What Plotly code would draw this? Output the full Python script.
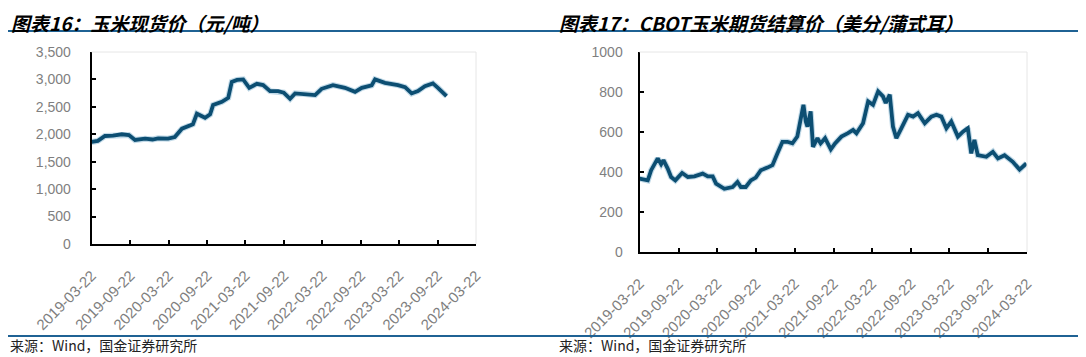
import plotly.graph_objects as go

# ---------------- data ----------------
tick_dates = ["2019-03-22", "2019-09-22", "2020-03-22", "2020-09-22", "2021-03-22",
              "2021-09-22", "2022-03-22", "2022-09-22", "2023-03-22", "2023-09-22", "2024-03-22"]

spot_dates = ["2019-03-22", "2019-04-20", "2019-05-24", "2019-07-01", "2019-08-12", "2019-09-15",
              "2019-10-14", "2019-12-01", "2020-01-05", "2020-02-01", "2020-03-19", "2020-04-20",
              "2020-05-24", "2020-06-23", "2020-07-15", "2020-08-03", "2020-09-11", "2020-10-05",
              "2020-10-19", "2020-11-30", "2020-12-30", "2021-01-16", "2021-02-10", "2021-03-11",
              "2021-04-09", "2021-05-15", "2021-06-14", "2021-07-17", "2021-08-24", "2021-09-20",
              "2021-10-20", "2021-11-13", "2021-12-20", "2022-02-16", "2022-03-19", "2022-05-12",
              "2022-07-08", "2022-08-25", "2022-09-26", "2022-11-12", "2022-11-28", "2023-01-14",
              "2023-03-17", "2023-04-20", "2023-05-21", "2023-06-20", "2023-07-23", "2023-08-30",
              "2023-09-23", "2023-10-15", "2023-11-03"]
spot_values = [1860, 1880, 1969, 1975, 2000, 1985, 1896, 1920, 1905, 1927, 1920, 1950,
               2102, 2150, 2182, 2375, 2302, 2364,
               2533, 2593, 2665, 2956, 2990, 3000,
               2847, 2920, 2896, 2787, 2787, 2760,
               2647, 2745, 2740, 2715, 2829, 2896,
               2847, 2775, 2847, 2891, 3000, 2938,
               2896, 2860, 2745, 2787, 2878, 2927,
               2847, 2770, 2696]

cbot_dates = ["2019-03-22", "2019-04-30", "2019-05-16", "2019-05-31", "2019-06-16", "2019-07-02",
              "2019-07-13", "2019-08-02", "2019-08-18", "2019-09-07", "2019-10-09", "2019-11-05",
              "2019-12-06", "2020-01-14", "2020-02-07", "2020-03-01", "2020-03-17", "2020-04-25",
              "2020-06-03", "2020-06-26", "2020-07-12", "2020-08-04", "2020-08-28", "2020-09-20",
              "2020-10-14", "2020-11-14", "2020-12-08", "2020-12-31", "2021-01-24", "2021-02-16",
              "2021-03-12", "2021-04-04", "2021-04-17", "2021-05-03", "2021-05-14", "2021-05-22",
              "2021-06-06", "2021-06-17", "2021-07-08", "2021-07-23", "2021-08-13", "2021-09-09",
              "2021-09-29", "2021-10-29", "2021-11-29", "2021-12-23", "2022-01-08", "2022-02-08",
              "2022-03-04", "2022-03-27", "2022-04-20", "2022-05-13", "2022-05-26", "2022-06-14",
              "2022-06-29", "2022-07-15", "2022-08-08", "2022-09-08", "2022-10-02", "2022-10-25",
              "2022-11-26", "2022-12-27", "2023-01-20", "2023-02-12", "2023-03-08", "2023-03-31",
              "2023-05-01", "2023-05-25", "2023-06-17", "2023-07-03", "2023-07-18", "2023-08-03",
              "2023-09-12", "2023-10-13", "2023-11-06", "2023-12-07", "2024-01-15", "2024-02-16",
              "2024-03-19"]
cbot_values = [367, 358, 409, 434, 468, 439,
               459, 417, 375, 358, 395, 375,
               378, 392, 378, 378, 342, 316,
               325, 350, 325, 325, 358, 372,
               409, 422, 434, 493, 551, 551,
               543, 577, 652, 736, 652, 627,
               703, 526, 569, 543, 569, 513,
               543, 577, 594, 610, 594, 644,
               753, 736, 803, 778, 745, 787,
               627, 569, 619, 686, 677, 694,
               644, 677, 686, 677, 619, 652,
               577, 602, 619, 493, 560, 484,
               476, 501, 468, 484, 451, 412,
               443]

title_left = "图表16：玉米现货价（元/吨）"
title_right = "图表17：CBOT玉米期货结算价（美分/蒲式耳）"
source_text = "来源：Wind，国金证券研究所"

# ---------------- figure ----------------
VIEW_W, VIEW_H = 1086, 357
OFF = 8                      # default page body margin
W, H = VIEW_W - OFF, VIEW_H - OFF
LINE = "#0c4e72"
HALO = "rgba(80,150,190,0.35)"
BLUE_RULE = "#1f6294"
TICK_GRAY = "#7f7f7f"

fig = go.Figure()
for xs, ys, xa, ya in ((spot_dates, spot_values, "x", "y"), (cbot_dates, cbot_values, "x2", "y2")):
    fig.add_trace(go.Scatter(x=xs, y=ys, mode="lines", line=dict(color=HALO, width=6),
                             xaxis=xa, yaxis=ya, showlegend=False, hoverinfo="skip"))
    fig.add_trace(go.Scatter(x=xs, y=ys, mode="lines", line=dict(color=LINE, width=3.8),
                             xaxis=xa, yaxis=ya, showlegend=False, hoverinfo="skip"))

def px_x(v):
    return (v - OFF) / W

def px_y(v):
    return 1 - (v - OFF) / H

tickfont = dict(family="Liberation Sans, Arial, sans-serif", size=14, color=TICK_GRAY)

common_x = dict(type="date", tickmode="array", tickvals=tick_dates, ticktext=tick_dates,
                range=[tick_dates[0], tick_dates[-1]], tickangle=-45, automargin=False,
                showgrid=False, zeroline=False, showline=True, linecolor="black", linewidth=2,
                ticks="inside", ticklen=4, tickwidth=1.5, tickcolor="black",
                tickfont=dict(family="Liberation Sans, Arial, sans-serif", size=15, color=TICK_GRAY),
                ticklabelstandoff=15, fixedrange=True)
common_y = dict(showgrid=False, zeroline=False, showline=True, linecolor="black", linewidth=2,
                ticks="inside", ticklen=4, tickwidth=1.5, tickcolor="black", automargin=False,
                tickfont=tickfont, fixedrange=True)

fig.update_layout(
    width=W, height=H, margin=dict(l=0, r=0, t=0, b=0, autoexpand=False),
    paper_bgcolor="white", plot_bgcolor="white",
    xaxis=dict(common_x, domain=[px_x(91.7), px_x(476)], anchor="y"),
    yaxis=dict(common_y, domain=[px_y(244), px_y(52)], anchor="x",
               range=[0, 3500], dtick=500, tickformat=",", ticklabelstandoff=16),
    xaxis2=dict(common_x, domain=[px_x(639.5), px_x(1027)], anchor="y2"),
    yaxis2=dict(common_y, domain=[px_y(252), px_y(52)], anchor="x2",
                range=[0, 1000], dtick=200, tickformat="d", ticklabelstandoff=12),
)

# faint plot-area border at top and right
for xr, yr in (("x", "y"), ("x2", "y2")):
    fig.add_shape(type="line", xref=f"{xr} domain", yref=f"{yr} domain",
                  x0=0, x1=1, y0=1, y1=1, line=dict(color="#e6e6e6", width=1))
    fig.add_shape(type="line", xref=f"{xr} domain", yref=f"{yr} domain",
                  x0=1, x1=1, y0=0, y1=1, line=dict(color="#e6e6e6", width=1))

# title rules and footer rules
for y in (31, 336):
    fig.add_shape(type="line", xref="paper", yref="paper",
                  x0=0, x1=1, y0=px_y(y), y1=px_y(y),
                  line=dict(color=BLUE_RULE, width=2))

title_font = dict(family="Noto Sans CJK SC, sans-serif", size=19, color="black",
                  weight="bold", style="italic")
fig.add_annotation(text=title_left, xref="paper", yref="paper", x=px_x(10), y=1,
                   xanchor="left", yanchor="top", showarrow=False, font=title_font,
                   borderpad=0)
fig.add_annotation(text=title_right, xref="paper", yref="paper", x=px_x(558), y=1,
                   xanchor="left", yanchor="top", showarrow=False, font=title_font,
                   borderpad=0)

src_font = dict(family="Noto Sans CJK SC, sans-serif", size=14, color="#222222")
fig.add_annotation(text=source_text, xref="paper", yref="paper", x=px_x(8), y=px_y(345),
                   xanchor="left", yanchor="middle", showarrow=False, font=src_font)
fig.add_annotation(text=source_text, xref="paper", yref="paper", x=px_x(557), y=px_y(345),
                   xanchor="left", yanchor="middle", showarrow=False, font=src_font)

fig.write_html("out.html")
